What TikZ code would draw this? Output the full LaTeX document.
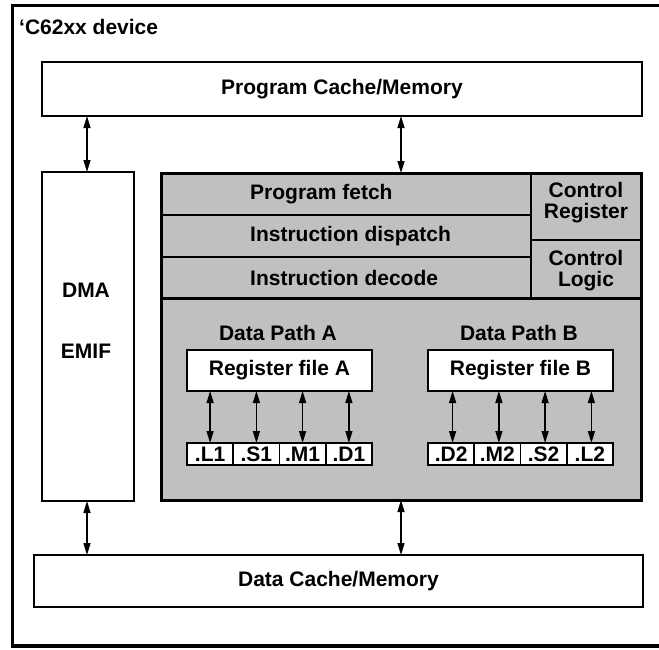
\documentclass[tikz,border=0pt]{standalone}
\usepackage{fontspec}
\setmainfont{Liberation Sans}
\usetikzlibrary{arrows.meta}
\definecolor{coregray}{RGB}{192,192,192}
\tikzset{
  txt/.style={font=\fontsize{21}{21}\selectfont\bfseries, inner sep=0pt, align=center},
  box/.style={draw, line width=2pt, fill=white, inner sep=0pt, outer sep=0pt},
  stagebox/.style={draw, line width=1.5pt, fill=coregray, inner sep=0pt, outer sep=0pt},
  unitbox/.style={box, minimum width=46.25pt, minimum height=22pt, line width=1.8pt,
    font=\fontsize{21}{21}\selectfont\bfseries},
  biarrow/.style={line width=1.3pt, {Triangle[length=12pt,width=7pt]}-{Triangle[length=12pt,width=7pt]}}
}
\begin{document}
\begin{tikzpicture}[x=1pt, y=-1pt]
\useasboundingbox (0,0) rectangle (659,649);

% device frame (right side runs off the page)
\draw[line width=3.8pt] (12.5,5.5) rectangle (664,646);
\node[txt, anchor=west] (title) at (19,27) {‘C62xx device};

% memories
\node[box, minimum width=600pt, minimum height=54pt] (pcache) at (342,89) {};
\node[txt] (pcachelbl) at (pcache.center) {Program Cache/Memory};
\node[box, minimum width=609pt, minimum height=52pt] (dcache) at (338.5,581) {};
\node[txt] (dcachelbl) at (dcache.center) {Data Cache/Memory};

% DMA / EMIF
\node[box, minimum width=92pt, minimum height=329pt] (dma) at (88,336.5) {};
\node[txt] (dmalbl) at (86,290) {DMA};
\node[txt] (emiflbl) at (86,351) {EMIF};

% CPU core
\node[draw, line width=3pt, fill=coregray, inner sep=0pt, outer sep=0pt,
      minimum width=480pt, minimum height=327pt] (core) at (401,336.5) {};

\node[stagebox, minimum width=370pt, minimum height=42pt] (fetch) at (346,194) {};
\node[stagebox, minimum width=370pt, minimum height=42pt] (dispatch) at (346,236) {};
\node[stagebox, minimum width=370pt, minimum height=41pt] (decode) at (346,277.5) {};
\node[txt, anchor=west] (fetchlbl) at (250,194) {Program fetch};
\node[txt, anchor=west] (dispatchlbl) at (250,236) {Instruction dispatch};
\node[txt, anchor=west] (decodelbl) at (250,277.5) {Instruction decode};

\node[stagebox, minimum width=110pt, minimum height=67pt] (creg) at (586,206.5) {};
\node[txt] (creglbl) at (586,203) {Control\\Register};
\node[stagebox, minimum width=110pt, minimum height=58pt] (clogic) at (586,269) {};
\node[txt] (clogiclbl) at (586,271) {Control\\Logic};

\draw[line width=3pt] (decode.south west) -- (clogic.south east);
\draw[line width=3pt] (core.north west) rectangle (core.south east);

% data paths
\node[txt] (dpa) at (278,333) {Data Path A};
\node[txt] (dpb) at (519,333) {Data Path B};
\node[box, minimum width=185pt, minimum height=41pt] (rfa) at (279.5,370.5) {};
\node[txt] (rfalbl) at (rfa.center) {Register file A};
\node[box, minimum width=185pt, minimum height=41pt] (rfb) at (520.5,370.5) {};
\node[txt] (rfblbl) at (rfb.center) {Register file B};

\node[unitbox] (L1) at (210.1,454) {.L1};
\node[unitbox] (S1) at (256.4,454) {.S1};
\node[unitbox] (M1) at (302.6,454) {.M1};
\node[unitbox] (D1) at (348.9,454) {.D1};
\node[unitbox] (D2) at (451.1,454) {.D2};
\node[unitbox] (M2) at (497.4,454) {.M2};
\node[unitbox] (S2) at (543.6,454) {.S2};
\node[unitbox] (L2) at (589.9,454) {.L2};

\foreach \u in {L1,S1,M1,D1}
  \draw[biarrow] (\u.north) -- (\u.north |- rfa.south);
\foreach \u in {D2,M2,S2,L2}
  \draw[biarrow] ([xshift=1.5pt]\u.north) -- ([xshift=1.5pt]\u.north |- rfb.south);

% buses
\draw[biarrow] (dma.north -| 87,0) -- (pcache.south -| 87,0);
\draw[biarrow] (core.north) -- (core.north |- pcache.south);
\draw[biarrow] (dma.south -| 87,0) -- (dcache.north -| 87,0);
\draw[biarrow] (core.south) -- (core.south |- dcache.north);
\end{tikzpicture}
\end{document}
